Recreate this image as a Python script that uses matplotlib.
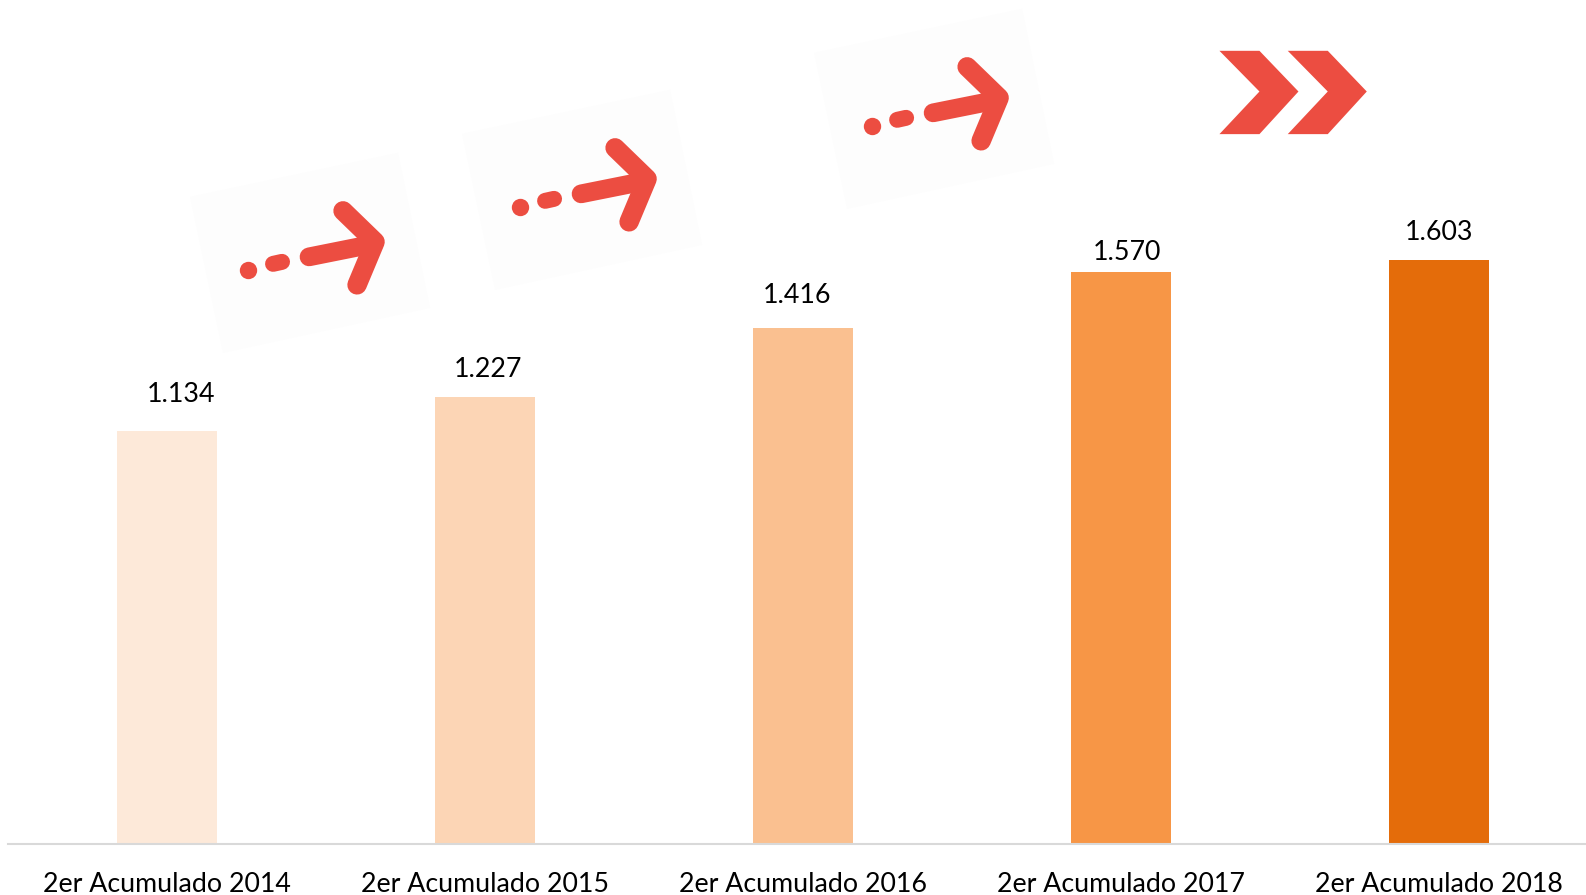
import matplotlib
matplotlib.use('Agg')
import matplotlib.pyplot as plt
from matplotlib.patches import Polygon

categories = ['2er Acumulado 2014', '2er Acumulado 2015', '2er Acumulado 2016',
              '2er Acumulado 2017', '2er Acumulado 2018']
values = [1134, 1227, 1416, 1570, 1603]
value_labels = ['1.134', '1.227', '1.416', '1.570', '1.603']
bar_colors = ['#FDE9D9', '#FCD5B5', '#FAC090', '#F79646', '#E46C0A']
# label nudges in pixels, Excel labels were dragged around by hand
label_dx = [14, 3, -6, 6, 0]
label_dy = [24, 15, 20, 7, 15]

W, H = 1586, 895
RED = '#EC4D41'
plt.rcParams['font.family'] = ['Lato', 'DejaVu Sans']

fig = plt.figure(figsize=((W + 0.2) / 100, (H + 0.2) / 100), dpi=100)

# overlay in pixel coordinates for the pasted arrow pictures
ov = fig.add_axes([0, 0, 1, 1])
ov.set_xlim(0, W)
ov.set_ylim(H, 0)
ov.axis('off')

ax = fig.add_axes([8 / W, (H - 844.5) / H, (W - 8) / W, 844.5 / H])
ax.patch.set_alpha(0)
ax.bar(range(5), values, width=100 / 318, color=bar_colors)
ax.set_xlim(-0.5, (W - 167) / 318)
ax.set_ylim(0, 844.5 / 0.3645)
ax.set_xticks(range(5))
ax.set_xticklabels(categories, fontsize=19.3, color='black')
ax.tick_params(axis='x', length=0, pad=19.7)
ax.set_yticks([])
for s in ['top', 'left', 'right']:
    ax.spines[s].set_visible(False)
ax.spines['bottom'].set_color('#D9D9D9')
ax.spines['bottom'].set_linewidth(1.5)

for i in range(5):
    ax.annotate(value_labels[i], (i, values[i]), xytext=(label_dx[i], label_dy[i]),
                textcoords='offset pixels', ha='center', va='bottom',
                fontsize=19.3, color='black')


def dotted_arrow(dx, dy):
    ov.add_patch(Polygon([(190 + dx, 197 + dy), (398 + dx, 153 + dy), (430 + dx, 308 + dy),
                          (223 + dx, 353 + dy)], color='#FDFDFD', lw=0))
    ov.plot([247.5 + dx], [270 + dy], 'o', ms=12.5, color=RED, mew=0)
    ov.plot([273 + dx, 282 + dx], [264 + dy, 262 + dy], color=RED, lw=11.5, solid_capstyle='round')
    ov.plot([309 + dx, 374 + dx], [257 + dy, 244 + dy], color=RED, lw=13.5, solid_capstyle='round')
    ov.plot([343 + dx, 375 + dx, 357 + dx], [211 + dy, 242 + dy, 285 + dy], color=RED, lw=14,
            solid_capstyle='round', solid_joinstyle='round')


dotted_arrow(0, 0)
dotted_arrow(272, -63)
dotted_arrow(624, -144)

# double chevron
for off in [0, 68.3]:
    xs = [1219.3, 1259.3, 1298.3, 1259.3, 1219.3, 1259.3]
    ys = [51, 51, 91.7, 134.3, 134.3, 91.7]
    ov.add_patch(Polygon([(x + off, y) for x, y in zip(xs, ys)], color=RED, lw=0))

plt.savefig('out.png', dpi=100)
